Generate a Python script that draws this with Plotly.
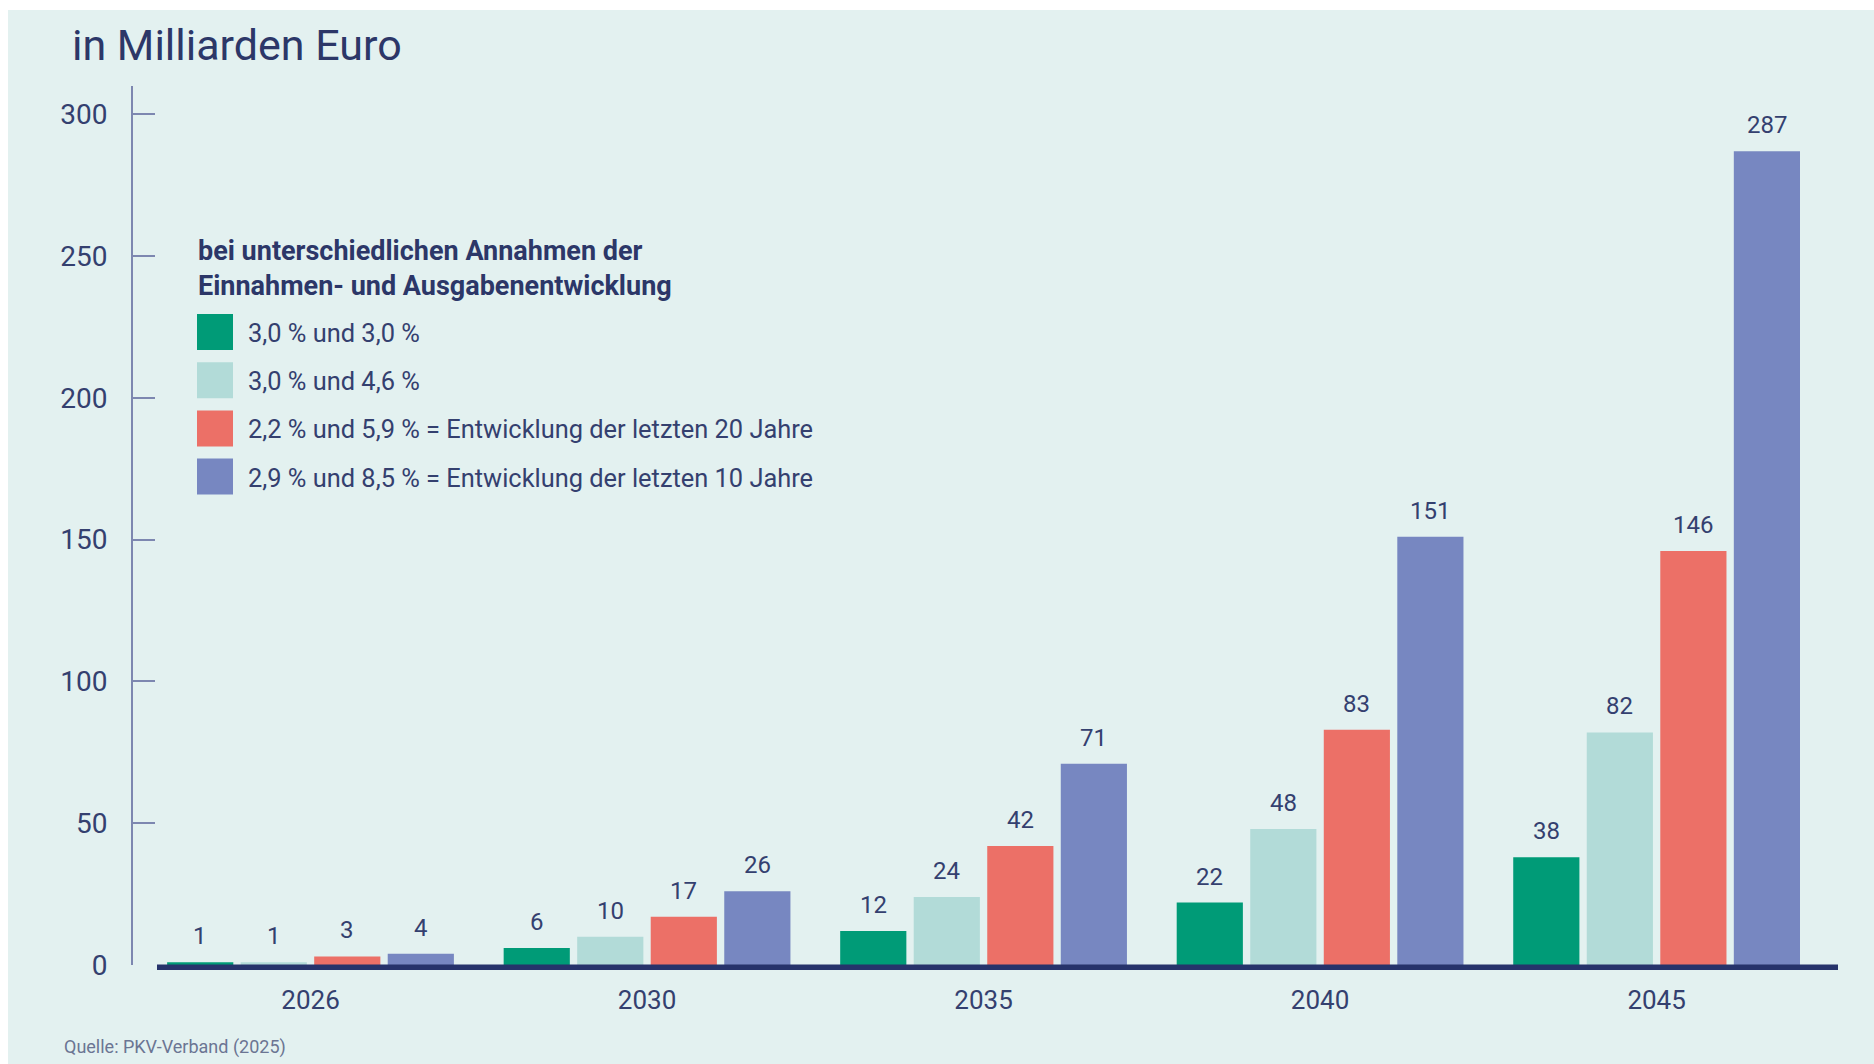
import plotly.graph_objects as go

# ---------------- data ----------------
years = ["2026", "2030", "2035", "2040", "2045"]
series_names = [
    "3,0 % und 3,0 %",
    "3,0 % und 4,6 %",
    "2,2 % und 5,9 % = Entwicklung der letzten 20 Jahre",
    "2,9 % und 8,5 % = Entwicklung der letzten 10 Jahre",
]
s_30_30 = [1, 6, 12, 22, 38]
s_30_46 = [1, 10, 24, 48, 82]
s_22_59 = [3, 17, 42, 83, 146]
s_29_85 = [4, 26, 71, 151, 287]
series_values = [s_30_30, s_30_46, s_22_59, s_29_85]
y_ticks = [0, 50, 100, 150, 200, 250, 300]

title_text = "in Milliarden Euro"
legend_title = "bei unterschiedlichen Annahmen der<br>Einnahmen- und Ausgabenentwicklung"
source_text = "Quelle: PKV-Verband (2025)"

# ---------------- style ----------------
colors = ["#009B77", "#B2DBD8", "#EC7067", "#7787C1"]
BG = "#E3F1F0"
NAVY = "#2C3768"
TEXT = "#34406F"
AXIS = "#7D87B0"
FONT = "Roboto, Liberation Sans, Arial, sans-serif"

W, H = 1874, 1064
PL, PR, PT, PB = 133, 1838, 86, 965
BARGAP, BARGROUPGAP = 0.126, 0.1


def px_x(px):
    return (px - PL) / (PR - PL)


def px_y(py):
    return (PB - py) / (PB - PT)


fig = go.Figure()
for name, vals, col in zip(series_names, series_values, colors):
    fig.add_trace(go.Bar(
        x=years, y=vals, name=name, marker=dict(color=col, line=dict(width=0)),
        hoverinfo="y", showlegend=False,
    ))

# value labels above bars
n = len(series_values)
slot = (1 - BARGAP) / n
annotations = []
for j, vals in enumerate(series_values):
    for i, v in enumerate(vals):
        annotations.append(dict(
            x=i + (j - (n - 1) / 2) * slot, y=v, xref="x", yref="y",
            text=str(v), showarrow=False, yanchor="bottom", xanchor="center",
            yshift=10, font=dict(family=FONT, size=24, color=TEXT),
        ))

# title
annotations.append(dict(
    x=px_x(70), y=px_y(45), xref="paper", yref="paper", text=title_text,
    showarrow=False, xanchor="left", yanchor="middle",
    font=dict(family=FONT, size=43, color=NAVY),
))
# legend title
annotations.append(dict(
    x=px_x(196), y=px_y(268), xref="paper", yref="paper", text=legend_title,
    showarrow=False, xanchor="left", yanchor="middle", align="left",
    font=dict(family=FONT, size=27, color=NAVY, weight="bold"),
))
# source
annotations.append(dict(
    x=px_x(62), y=px_y(1047), xref="paper", yref="paper", text=source_text,
    showarrow=False, xanchor="left", yanchor="middle",
    font=dict(family=FONT, size=18, color="#6B7593"),
))

shapes = [
    # background panel (white strip on top and left)
    dict(type="rect", xref="paper", yref="paper", x0=px_x(8), x1=px_x(W + 5),
         y0=px_y(H + 5), y1=px_y(10), fillcolor=BG, line=dict(width=0), layer="below"),
    # thick baseline
    dict(type="rect", xref="paper", yref="paper",
         x0=px_x(157), x1=px_x(1838), y0=px_y(970), y1=px_y(964.5),
         fillcolor="#26336B", line=dict(width=0), layer="above"),
]

# custom legend
leg_y0, leg_step = 332, 48.2
for k, (name, col) in enumerate(zip(series_names, colors)):
    cy = leg_y0 + k * leg_step
    shapes.append(dict(type="rect", xref="paper", yref="paper",
                       x0=px_x(197), x1=px_x(233), y0=px_y(cy + 18), y1=px_y(cy - 18),
                       fillcolor=col, line=dict(width=0)))
    annotations.append(dict(
        x=px_x(246), y=px_y(cy + 1), xref="paper", yref="paper", text=name,
        showarrow=False, xanchor="left", yanchor="middle",
        font=dict(family=FONT, size=25.4, color=TEXT),
    ))

fig.update_layout(
    width=W, height=H,
    margin=dict(l=PL, r=W - PR, t=PT, b=H - PB, pad=0),
    paper_bgcolor="white", plot_bgcolor=BG,
    barmode="group", bargap=BARGAP, bargroupgap=BARGROUPGAP,
    font=dict(family=FONT, color=TEXT),
    annotations=annotations, shapes=shapes,
    xaxis=dict(type="category", range=[-0.5275, 4.539], showline=False, ticks="",
               showgrid=False, zeroline=False, ticklabelstandoff=17,
               tickfont=dict(family=FONT, size=26, color=TEXT)),
    yaxis=dict(range=[0, 310], tickvals=y_ticks, ticks="inside", ticklen=22,
               tickwidth=1.5, tickcolor=AXIS, showline=True, linecolor=AXIS,
               linewidth=2, showgrid=False, zeroline=False, ticklabelstandoff=18,
               tickfont=dict(family=FONT, size=28, color=TEXT)),
)

fig.write_html("out.html")
